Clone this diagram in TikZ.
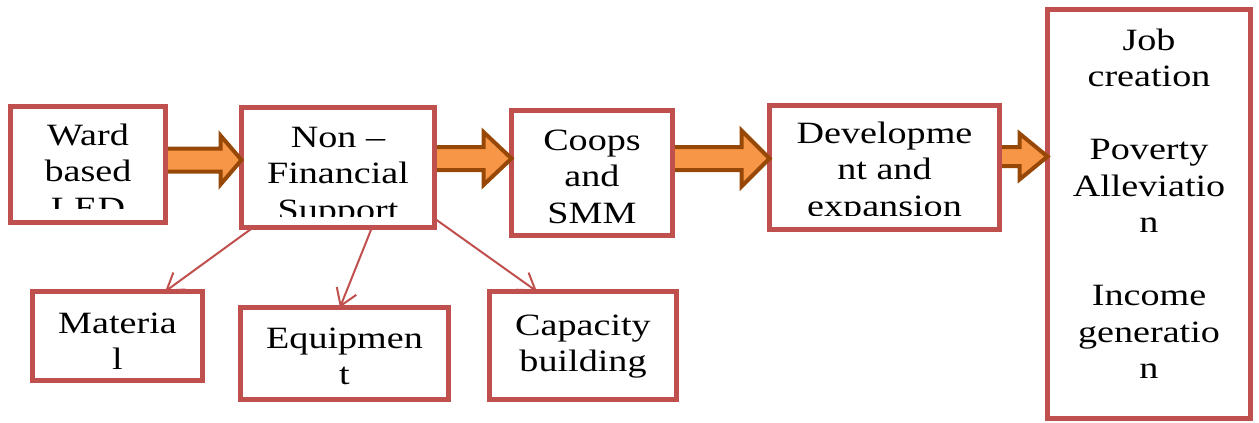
\documentclass[tikz,border=0pt]{standalone}
\usepackage{fontspec}
\setmainfont{Liberation Serif}[FakeStretch=1.23]
\usetikzlibrary{arrows.meta,calc}

\definecolor{boxred}{RGB}{192,80,77}
\definecolor{arrfill}{RGB}{247,150,70}
\definecolor{arredge}{RGB}{152,72,6}

\tikzset{
  box/.style={draw=boxred, fill=white, line width=5pt, rectangle,
    inner sep=0pt, outer sep=0pt},
  % anchor=base sits on the baseline of the last line
  lbl/.style={font=\fontsize{31}{36.5}\selectfont, align=center,
    anchor=base, inner sep=0pt},
  blockfill/.style={fill=arrfill},
  blockedge/.style={draw=arredge, line width=4pt, line join=miter},
  link/.style={draw=boxred, line width=2pt,
    -{Straight Barb[length=16pt,width=21pt,line width=2pt]}},
}

% thick orange arrow between two boxes:
% #1 from node, #2 to node, #3 axis y, #4 body half height,
% #5 head half height, #6 head length
\newcommand\blockarrow[6]{%
  \coordinate (ba-y) at (0,#3);
  \coordinate (ba-s) at ($(#1.east |- ba-y)+(2.5,0)$);
  \coordinate (ba-t) at (#2.west |- ba-y);
  \fill[blockfill] ($(ba-s)+(0,-#4)$) -- ($(ba-t)+(-#6,-#4)$)
    -- ($(ba-t)+(-#6,-#5)$) -- (ba-t) -- ($(ba-t)+(-#6,#5)$)
    -- ($(ba-t)+(-#6,#4)$) -- ($(ba-s)+(0,#4)$) -- cycle;
  \draw[blockedge] ($(ba-s)+(0,-#4)$) -- ($(ba-t)+(-#6,-#4)$)
    -- ($(ba-t)+(-#6,-#5)$) -- (ba-t) -- ($(ba-t)+(-#6,#5)$)
    -- ($(ba-t)+(-#6,#4)$) -- ($(ba-s)+(0,#4)$);
}

\begin{document}
\begin{tikzpicture}[x=1pt,y=-1pt]
\useasboundingbox (0,0) rectangle (1259,423);

% boxes
\node[box, minimum width=155pt, minimum height=116pt] (ward)  at (88,164.5) {};
\node[box, minimum width=193pt, minimum height=120pt] (nf)    at (338,167.5) {};
\node[box, minimum width=161pt, minimum height=125pt] (coops) at (592,173) {};
\node[box, minimum width=230pt, minimum height=124pt] (dev)   at (884.5,167.5) {};
\node[box, minimum width=203pt, minimum height=409pt] (out)   at (1149,214) {};
\node[box, minimum width=170pt, minimum height=89pt]  (mat)   at (117.5,336) {};
\node[box, minimum width=208pt, minimum height=92pt]  (equip) at (344.5,353.5) {};
\node[box, minimum width=187pt, minimum height=108pt] (cap)   at (583,345.5) {};

% labels (the text frames cut off the last line of some boxes)
\begin{scope}
  \clip (13,109) rectangle (163,208);
  \node[lbl] (wardtxt) at (88,218) {Ward\\based\\LED};
\end{scope}
\begin{scope}
  \clip (244,110) rectangle (432,216);
  \node[lbl] (nftxt) at (338,220) {Non –\\Financial\\Support};
\end{scope}
\node[lbl] (coopstxt) at (592,223) {Coops\\and\\SMM};
\begin{scope}
  \clip (772,108) rectangle (997,215);
  \node[lbl] (devtxt) at (884.5,216) {Developme\\nt and\\expansion};
\end{scope}
\node[lbl] (outtxt) at (1149,378.5)
  {Job\\creation\\~\\Poverty\\Alleviatio\\n\\~\\Income\\generatio\\n};
\node[lbl] (mattxt)   at (117.5,369.5) {Materia\\l};
\node[lbl] (equiptxt) at (344.5,384.5) {Equipmen\\t};
\node[lbl] (captxt)   at (583,371.5)   {Capacity\\building};

% main flow
\blockarrow{ward}{nf}{160}{11.5}{24.5}{21}
\blockarrow{nf}{coops}{158.5}{11.5}{26.5}{28}
\blockarrow{coops}{dev}{158.5}{11.5}{28}{28}
\blockarrow{dev}{out}{156.5}{9.5}{23}{28}

% kinds of non-financial support
\draw[link] ($(nf.south west)!0.06!(nf.south east)$)
  -- ($(mat.north west)!0.78!(mat.north east)$);
\draw[link] ($(nf.south west)!0.676!(nf.south east)$)
  -- ($(equip.north west)!0.478!(equip.north east)$);
\draw[link] ($(nf.south east)+(0,-9)$)
  -- ($(cap.north west)!0.254!(cap.north east)$);
\end{tikzpicture}
\end{document}
